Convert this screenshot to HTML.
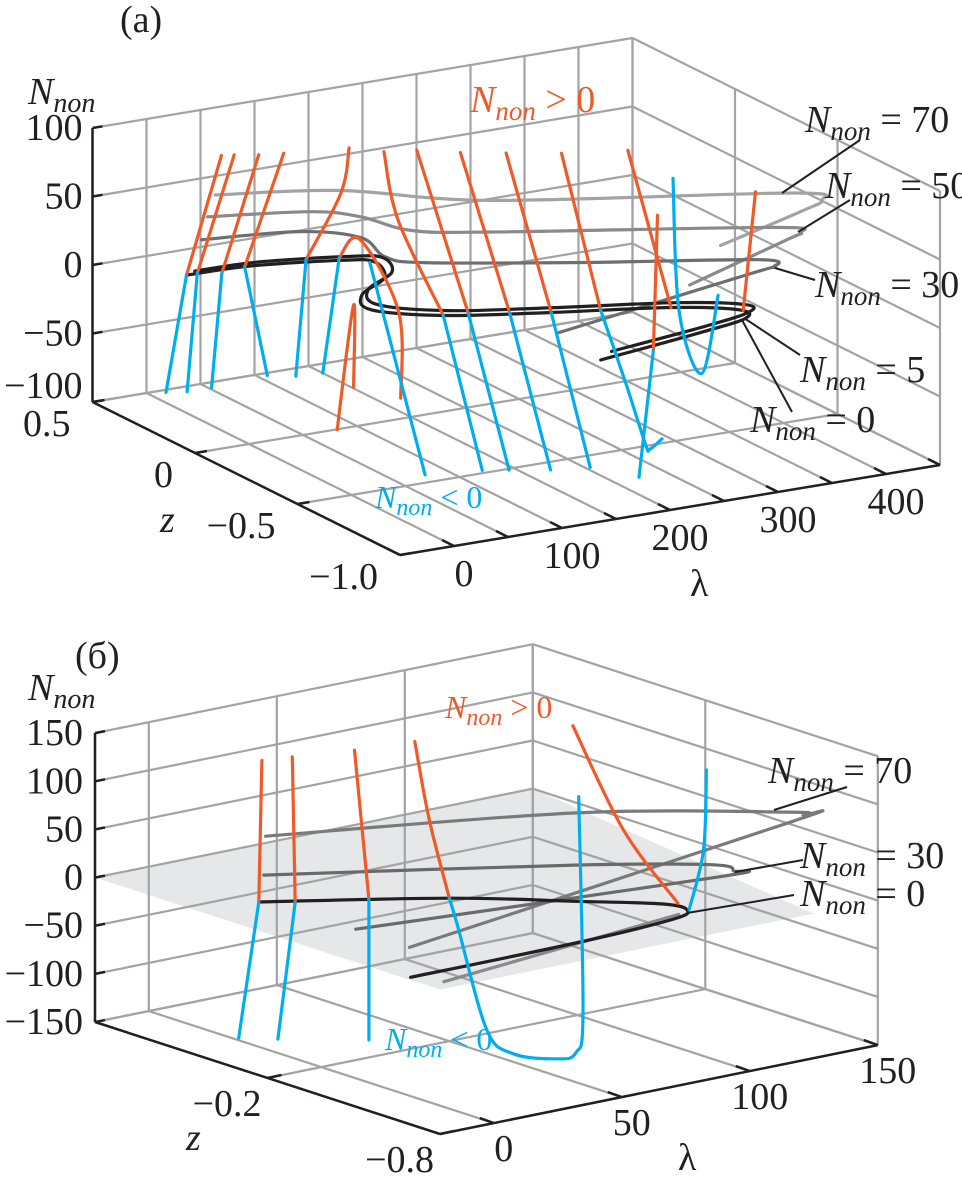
<!DOCTYPE html>
<html><head><meta charset="utf-8"><style>
html,body{margin:0;padding:0;background:#fff}
svg{display:block;font-family:"Liberation Serif",serif}
</style></head><body>
<svg id="fig" width="962" height="1178" viewBox="0 0 962 1178" xmlns="http://www.w3.org/2000/svg">
<g id="gridA"></g>
<g id="curvesA"></g>
<g id="gridB"></g>
<g id="curvesB"></g>
<g id="textLayer" font-size="38" fill="#231f20">
  <text x="120" y="32">(a)</text>
  <text x="28" y="104"><tspan font-style="italic">N</tspan><tspan font-style="italic" font-size="28" dy="8">non</tspan></text>
  <text x="75" y="668">(б)</text>
  <text x="28" y="700"><tspan font-style="italic">N</tspan><tspan font-style="italic" font-size="28" dy="8">non</tspan></text>
  <text x="160" y="532" font-style="italic">z</text>
  <text x="690" y="596">λ</text>
  <text x="186" y="1150" font-style="italic">z</text>
  <text x="678" y="1170">λ</text>

  <text x="470" y="112" fill="#f05a28"><tspan font-style="italic">N</tspan><tspan font-style="italic" font-size="27" dy="8">non</tspan><tspan dy="-8"> &gt; 0</tspan></text>
  <text x="375" y="508" fill="#00aeef" font-size="32"><tspan font-style="italic">N</tspan><tspan font-style="italic" font-size="24" dy="7">non</tspan><tspan dy="-7"> &lt; 0</tspan></text>
  <text x="805" y="132"><tspan font-style="italic">N</tspan><tspan font-style="italic" font-size="27" dy="8">non</tspan><tspan dy="-8"> = 70</tspan></text>
  <text x="825" y="198"><tspan font-style="italic">N</tspan><tspan font-style="italic" font-size="27" dy="8">non</tspan><tspan dy="-8"> = 50</tspan></text>
  <text x="815" y="297"><tspan font-style="italic">N</tspan><tspan font-style="italic" font-size="27" dy="8">non</tspan><tspan dy="-8"> = 30</tspan></text>
  <text x="800" y="382"><tspan font-style="italic">N</tspan><tspan font-style="italic" font-size="27" dy="8">non</tspan><tspan dy="-8"> = 5</tspan></text>
  <text x="750" y="432"><tspan font-style="italic">N</tspan><tspan font-style="italic" font-size="27" dy="8">non</tspan><tspan dy="-8"> = 0</tspan></text>

  <text x="445" y="718" fill="#f05a28" font-size="32"><tspan font-style="italic">N</tspan><tspan font-style="italic" font-size="24" dy="7">non</tspan><tspan dy="-7"> &gt; 0</tspan></text>
  <text x="385" y="1050" fill="#00aeef" font-size="32"><tspan font-style="italic">N</tspan><tspan font-style="italic" font-size="24" dy="7">non</tspan><tspan dy="-7"> &lt; 0</tspan></text>
  <text x="768" y="783"><tspan font-style="italic">N</tspan><tspan font-style="italic" font-size="27" dy="8">non</tspan><tspan dy="-8"> = 70</tspan></text>
  <text x="800" y="868"><tspan font-style="italic">N</tspan><tspan font-style="italic" font-size="27" dy="8">non</tspan><tspan dy="-8"> = 30</tspan></text>
  <text x="800" y="906"><tspan font-style="italic">N</tspan><tspan font-style="italic" font-size="27" dy="8">non</tspan><tspan dy="-8"> = 0</tspan></text>
</g>
<g id="leaders" stroke="#231f20" stroke-width="2" fill="none">
  <line x1="860" y1="140" x2="782" y2="193"/>
  <line x1="850" y1="200" x2="798" y2="232"/>
  <line x1="815" y1="280" x2="775" y2="268"/>
  <line x1="800" y1="355" x2="744" y2="318"/>
  <line x1="792" y1="412" x2="742" y2="320"/>
  <line x1="847" y1="787" x2="774" y2="810"/>
  <line x1="803" y1="860" x2="735" y2="872"/>
  <line x1="794" y1="895" x2="687" y2="913"/>
</g>
</svg>
<script>
// ---------- axis tick data ----------
const aLambdaTicks=[0,100,200,300,400];
const aLambdaGrid=[-50,0,50,100,150,200,250,300,350,400,450];
const aZTicks=[0.5,0,-0.5,-1.0];
const aZLabels=["0.5","0","\u22120.5","\u22121.0"];
const aNTicks=[100,50,0,-50,-100];
const aNLabels=["100","50","0","\u221250","\u2212100"];
const bLambdaTicks=[0,50,100,150];
const bLambdaGrid=[-21,0,50,100,150];
const bZGrid=[0.4,-0.2,-0.8];
const bZTicks=[-0.2,-0.8];
const bZLabels=["\u22120.2","\u22120.8"];
const bNTicks=[150,100,50,0,-50,-100,-150];
const bNLabels=["150","100","50","0","\u221250","\u2212100","\u2212150"];

// ---------- panel (a) curves: lambda, z, N ----------
const seriesA=[
 {name:"a-contour-70",c:"#a3a3a3",lam:[-1,92,184,401,413,381,279],z:[.16,.04,-.22,-.53,-.62,-.68,-.83],n:[70,70,70,70,70,70,70]},
 {name:"a-contour-50",c:"#8a8a8a",lam:[1.5,81,108,124,178,379,391,370,241],z:[.21,.12,.02,-.14,-.25,-.56,-.63,-.67,-.88],n:[50,50,50,50,50,50,50,50,50]},
 {name:"a-contour-30",c:"#6e6e6e",lam:[3.5,83,117,107,126,234,363,362,338,121],z:[.25,.19,.07,-.10,-.19,-.38,-.58,-.65,-.67,-.87],n:[30,30,30,30,30,30,30,30,30,30]},
 {name:"a-contour-5",c:"#231f20",lam:[3,58,129,152,138,97,83,123,202,292,338,330,280,180],z:[.28,.27,.20,.15,.03,-.07,-.19,-.32,-.43,-.54,-.64,-.70,-.75,-.82],n:[5,5,5,5,5,5,5,5,5,5,5,5,5,5]},
 {name:"a-contour-0",c:"#231f20",lam:[1,58,129,150,135,95,81,123,202,292,336,329,278,170],z:[.31,.30,.23,.18,.05,-.05,-.17,-.30,-.41,-.52,-.62,-.69,-.74,-.82],n:[0,0,0,0,0,0,0,0,0,0,0,0,0,0]},
 {name:"a-pos-1",c:"#f05a28",lam:[1,1],z:[.14,.31],n:[100,0]},
 {name:"a-neg-1",c:"#00aeef",lam:[1,1],z:[.31,.41],n:[0,-93]},
 {name:"a-pos-2",c:"#f05a28",lam:[11,11],z:[.13,.31],n:[100,0]},
 {name:"a-neg-2",c:"#00aeef",lam:[11,11],z:[.31,.36],n:[0,-90]},
 {name:"a-pos-3",c:"#f05a28",lam:[28,28],z:[.10,.28],n:[100,0]},
 {name:"a-neg-3",c:"#00aeef",lam:[28,28],z:[.28,.33],n:[0,-87]},
 {name:"a-pos-4",c:"#f05a28",lam:[53,53],z:[.11,.30],n:[97,0]},
 {name:"a-neg-4",c:"#00aeef",lam:[53,53],z:[.30,.19],n:[0,-71]},
 {name:"a-pos-5",c:"#f05a28",lam:[106,106,106],z:[.07,.11,.28],n:[97,61,0]},
 {name:"a-neg-5",c:"#00aeef",lam:[106,106],z:[.28,.33],n:[0,-89]},
 {name:"a-pos-6",c:"#f05a28",lam:[131,131,131,131],z:[.25,.15,-.04,-.05],n:[0,21,-18,-80]},
 {name:"a-neg-6",c:"#00aeef",lam:[131,131],z:[.25,.33],n:[0,-90]},
 {name:"a-neg-7",c:"#00aeef",lam:[146,146],z:[.18,-.09],n:[0,-135]},
 {name:"a-pos-arch",c:"#f05a28",lam:[150,150,150],z:[.36,.28,.28],n:[-136,-39,-99]},
 {name:"a-pos-8",c:"#f05a28",lam:[123,123,123],z:[-.01,-.08,-.30],n:[98,53,0]},
 {name:"a-neg-8",c:"#00aeef",lam:[123,123],z:[-.30,-.49],n:[0,-99]},
 {name:"a-pos-9",c:"#f05a28",lam:[144,144],z:[-.06,-.31],n:[100,0]},
 {name:"a-neg-9",c:"#00aeef",lam:[144,144],z:[-.31,-.51],n:[0,-100]},
 {name:"a-pos-10",c:"#f05a28",lam:[173,173],z:[-.12,-.36],n:[99,0]},
 {name:"a-neg-10",c:"#00aeef",lam:[173,173],z:[-.36,-.56],n:[0,-100]},
 {name:"a-pos-11",c:"#f05a28",lam:[202,202],z:[-.19,-.41],n:[100,0]},
 {name:"a-neg-11",c:"#00aeef",lam:[202,202],z:[-.41,-.60],n:[0,-99]},
 {name:"a-pos-12",c:"#f05a28",lam:[240,240],z:[-.26,-.45],n:[100,0]},
 {name:"a-neg-12",c:"#00aeef",lam:[240,240,240,240,240],z:[-.45,-.575,-.67,-.69,-.75],n:[0,-45,-82,-84,-72]},
 {name:"a-pos-13",c:"#f05a28",lam:[292,292],z:[-.31,-.52],n:[99,0]},
 {name:"a-neg-13",c:"#00aeef",lam:[292,292,292,292],z:[-.53,-.56,-.67,-.75],n:[95,0,-37,26]},
 {name:"a-pos-14",c:"#f05a28",lam:[270,270],z:[-.57,-.55],n:[74,-26]},
 {name:"a-neg-14",c:"#00aeef",lam:[270,270],z:[-.55,-.48],n:[-26,-124]},
 {name:"a-pos-15",c:"#f05a28",lam:[338,338],z:[-.69,-.63],n:[91,0]}
];
// ---------- panel (b) curves ----------
const planeB={lam:[-21,150,125,-21],z:[.4,.4,-.8,-.8],n:[0,0,0,0]};
const seriesB=[
 {name:"b-contour-70",c:"#7a7a7a",lam:[0.7,92,144,145.5,137,-15],z:[0,-.26,-.54,-.58,-.61,-.64],n:[70,70,70,70,70,25]},
 {name:"b-contour-30",c:"#6a6a6a",lam:[0,82,115,116,107,-18],z:[0,-.35,-.53,-.60,-.62,-.48],n:[30,30,30,30,30,30]},
 {name:"b-contour-mid",c:"#8a8a8a",lam:[-15,97],z:[-.76,-.58],n:[1,-7]},
 {name:"b-contour-0",c:"#231f20",lam:[0.3,48.9,77,96,97,86,46,-19],z:[.02,-.21,-.40,-.535,-.61,-.65,-.675,-.68],n:[0,0,0,0,0,0,0,0]},
 {name:"b-pos-1",c:"#f05a28",lam:[0.3,0.3],z:[.009,.02],n:[148,0]},
 {name:"b-neg-1",c:"#00aeef",lam:[0.3,0.3],z:[.02,.09],n:[0,-148]},
 {name:"b-pos-2",c:"#f05a28",lam:[8.9,8.9],z:[-.02,-.03],n:[150,0]},
 {name:"b-neg-2",c:"#00aeef",lam:[8.9,8.9],z:[-.03,.03],n:[0,-148]},
 {name:"b-pos-3",c:"#f05a28",lam:[28.7,28.7],z:[-.06,-.11],n:[150,0]},
 {name:"b-neg-3",c:"#00aeef",lam:[28.7,28.7],z:[-.11,-.11],n:[0,-146]},
 {name:"b-pos-4",c:"#f05a28",lam:[48.9,48.9,48.9],z:[-.09,-.14,-.21],n:[151,75,0]},
 {name:"b-neg-4",c:"#00aeef",lam:[48.9,48.9,48.9,48.9,48.9,48.9,48.9,48.9],z:[-.21,-.24,-.34,-.43,-.58,-.65,-.675,-.66],n:[0,-27,-124,-140,-131,-118,-74,149]},
 {name:"b-pos-5",c:"#f05a28",lam:[100,100,100],z:[-.185,-.36,-.55],n:[149,58,0]},
 {name:"b-neg-5",c:"#00aeef",lam:[110,110,110],z:[-.50,-.55,-.56],n:[-17,50,134]}
];

// ---------- projections (axis functions) ----------
function pa(l,z,n){return [400+1.08*(l+50)-205*(z+1), 555-0.18*(l+50)-102*(z+1)-1.37*(n+100)];}
function pb(l,z,n){return [440+2.56*(l+21)-287.5*(z+0.8), 1134-0.52*(l+21)-93.3*(z+0.8)-0.963*(n+150)];}

const NS="http://www.w3.org/2000/svg";
function mk(tag,attrs,parent){const e=document.createElementNS(NS,tag);for(const k in attrs)e.setAttribute(k,attrs[k]);parent.appendChild(e);return e;}
function seg(g,P,a,b,stroke,w,name){
  const p=P(...a),q=P(...b);
  const e=mk("line",{x1:p[0].toFixed(1),y1:p[1].toFixed(1),x2:q[0].toFixed(1),y2:q[1].toFixed(1),stroke:stroke,"stroke-width":w},g);
  
  
  return e;
}
function smooth(pts){
  if(pts.length<3){return "M"+pts.map(p=>p[0].toFixed(1)+","+p[1].toFixed(1)).join(" L");}
  let d="M"+pts[0][0].toFixed(1)+","+pts[0][1].toFixed(1);
  for(let i=0;i<pts.length-1;i++){
    const p0=pts[i-1]||pts[i],p1=pts[i],p2=pts[i+1],p3=pts[i+2]||p2;
    const c1=[p1[0]+(p2[0]-p0[0])/6,p1[1]+(p2[1]-p0[1])/6];
    const c2=[p2[0]-(p3[0]-p1[0])/6,p2[1]-(p3[1]-p1[1])/6];
    d+=" C"+c1[0].toFixed(1)+","+c1[1].toFixed(1)+" "+c2[0].toFixed(1)+","+c2[1].toFixed(1)+" "+p2[0].toFixed(1)+","+p2[1].toFixed(1);
  }
  return d;
}
function tickLabel(g,x,y,txt,anchor,name){
  const t=mk("text",{x:x.toFixed(1),y:y.toFixed(1),"text-anchor":anchor,"dominant-baseline":"central","font-size":"38",fill:"#231f20"},g);
  t.textContent=txt;
  
  
}
const GC="#a3a3a3", GW=2.2, AX="#231f20";

// ---------- panel (a) grid ----------
(function(){
  const g=document.getElementById("gridA");
  const L0=-50,L1=450,Z0=0.5,Z1=-1,N0=-100,N1=100;
  const zGrid=[0.5,0,-0.5,-1];
  aLambdaGrid.forEach(l=>{
    seg(g,pa,[l,Z0,N0],[l,Z0,N1],GC,GW,"a-back-vgrid");
    seg(g,pa,[l,Z0,N0],[l,Z1,N0],GC,GW,"a-floor-lgrid");
  });
  aNTicks.forEach(n=>{
    seg(g,pa,[L0,Z0,n],[L1,Z0,n],GC,GW,"a-back-hgrid");
    seg(g,pa,[L1,Z0,n],[L1,Z1,n],GC,GW,"a-right-hgrid");
  });
  zGrid.forEach(z=>{
    seg(g,pa,[L1,z,N0],[L1,z,N1],GC,GW,"a-right-vgrid");
    seg(g,pa,[L0,z,N0],[L1,z,N0],GC,GW,"a-floor-zgrid");
  });
  seg(g,pa,[L0,Z0,N0],[L0,Z0,N1],AX,2.5,"a-n-axis");
  seg(g,pa,[L0,Z0,N0],[L0,Z1,N0],AX,2.5,"a-z-axis");
  seg(g,pa,[L0,Z1,N0],[L1,Z1,N0],AX,2.5,"a-lambda-axis");
  const t=document.getElementById("textLayer");
  aNTicks.forEach((n,i)=>{
    const p=pa(L0,Z0,n);
    mk("line",{x1:p[0],y1:p[1],x2:p[0]+10,y2:p[1]-1.7,stroke:AX,"stroke-width":2.5},g);
    tickLabel(t,p[0]-10,p[1]-(n===-100?16:0),aNLabels[i],"end","a-n-tick-label");
  });
  aZTicks.forEach((z,i)=>{
    const p=pa(L0,z,N0);
    mk("line",{x1:p[0],y1:p[1],x2:p[0]+12,y2:p[1]-2,stroke:AX,"stroke-width":2.5},g);
    tickLabel(t,p[0]-22,p[1]+22,aZLabels[i],"end","a-z-tick-label");
  });
  aLambdaGrid.forEach(l=>{
    const p=pa(l,Z1,N0);
    mk("line",{x1:p[0],y1:p[1],x2:p[0]-12,y2:p[1]-6,stroke:AX,"stroke-width":2.5},g);
  });
  aLambdaTicks.forEach(l=>{
    const p=pa(l,Z1,N0);
    tickLabel(t,p[0]+10,p[1]+28,String(l),"middle","a-lambda-tick-label");
  });
})();
// ---------- panel (b) grid ----------
(function(){
  const g=document.getElementById("gridB");
  const L0=-21,L1=150,Z0=0.4,Z1=-0.8,N0=-150,N1=150;
  const pts=planeB.lam.map((l,i)=>pb(l,planeB.z[i],planeB.n[i]));
  const pl=mk("polygon",{points:pts.map(p=>p[0].toFixed(1)+","+p[1].toFixed(1)).join(" "),fill:"#e6e7e8",stroke:"none"},g);
  
  
  bLambdaGrid.forEach(l=>{
    seg(g,pb,[l,Z0,N0],[l,Z0,N1],GC,GW,"b-back-vgrid");
    seg(g,pb,[l,Z0,N0],[l,Z1,N0],GC,GW,"b-floor-lgrid");
  });
  bNTicks.forEach(n=>{
    seg(g,pb,[L0,Z0,n],[L1,Z0,n],GC,GW,"b-back-hgrid");
    seg(g,pb,[L1,Z0,n],[L1,Z1,n],GC,GW,"b-right-hgrid");
  });
  bZGrid.forEach(z=>{
    seg(g,pb,[L1,z,N0],[L1,z,N1],GC,GW,"b-right-vgrid");
    seg(g,pb,[L0,z,N0],[L1,z,N0],GC,GW,"b-floor-zgrid");
  });
  seg(g,pb,[L0,Z0,N0],[L0,Z0,N1],AX,2.5,"b-n-axis");
  seg(g,pb,[L0,Z0,N0],[L0,Z1,N0],AX,2.5,"b-z-axis");
  seg(g,pb,[L0,Z1,N0],[L1,Z1,N0],AX,2.5,"b-lambda-axis");
  const t=document.getElementById("textLayer");
  bNTicks.forEach((n,i)=>{
    const p=pb(L0,Z0,n);
    mk("line",{x1:p[0],y1:p[1],x2:p[0]+10,y2:p[1]-2,stroke:AX,"stroke-width":2.5},g);
    tickLabel(t,p[0]-12,p[1],bNLabels[i],"end","b-n-tick-label");
  });
  bZTicks.forEach((z,i)=>{
    const p=pb(L0,z,N0);
    mk("line",{x1:p[0],y1:p[1],x2:p[0]+14,y2:p[1]-3,stroke:AX,"stroke-width":2.5},g);
    tickLabel(t,p[0]-6,p[1]+26,bZLabels[i],"end","b-z-tick-label");
  });
  bLambdaTicks.forEach(l=>{
    const p=pb(l,Z1,N0);
    mk("line",{x1:p[0],y1:p[1],x2:p[0]-14,y2:p[1]-5,stroke:AX,"stroke-width":2.5},g);
    tickLabel(t,p[0]+10,p[1]+26,String(l),"middle","b-lambda-tick-label");
  });
})();
// ---------- draw curves ----------
function drawSeries(list,P,gid){
  const g=document.getElementById(gid);
  list.forEach(s=>{
    const pts=s.lam.map((l,i)=>P(l,s.z[i],s.n[i]));
    const e=mk("path",{d:smooth(pts),fill:"none",stroke:s.c,"stroke-width":3.2,"stroke-linecap":"round","stroke-linejoin":"round"},g);
    
    
  });
}
drawSeries(seriesA,pa,"curvesA");
drawSeries(seriesB,pb,"curvesB");
</script>
</body></html>
